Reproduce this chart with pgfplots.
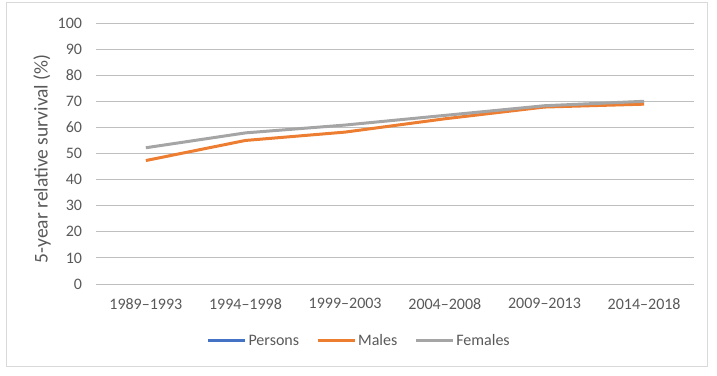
\documentclass[border=0pt]{standalone}
\usepackage{fontspec}
\setmainfont{Carlito}
\usepackage{pgfplots}
\pgfplotsset{compat=1.18}
\definecolor{persons}{RGB}{68,114,196}
\definecolor{males}{RGB}{237,125,49}
\definecolor{females}{RGB}{165,165,165}
\definecolor{txt}{RGB}{89,89,89}
\definecolor{grid}{RGB}{217,217,217}
\begin{document}
\begin{tikzpicture}
\path (0bp,0bp) rectangle (717bp,376bp);
\draw[grid, line width=1bp] (6bp,9bp) rectangle (707bp,373bp);
\begin{axis}[
  at={(96bp,92bp)}, anchor=south west,
  scale only axis, width=598bp, height=261bp,
  xmin=-0.5, xmax=5.5, ymin=0, ymax=100,
  xtick={0,1,2,3,4,5},
  xticklabels={1989--1993,1994--1998,1999--2003,2004--2008,2009--2013,2014--2018},
  ytick={0,10,...,100},
  axis line style={draw=none},
  major tick length=0pt,
  xmajorgrids=false,
  ymajorgrids=true, grid style={grid, line width=0.9bp},
  /pgf/number format/assume math mode=true,
  tick label style={font=\fontsize{16bp}{19bp}\selectfont, text=txt},
  yticklabel style={xshift=-10.5bp},
  xticklabel style={yshift=-11bp},
  ylabel={5-year relative survival (\%)},
  ylabel style={at={(axis description cs:-0.0903,0.48)}, anchor=center, font=\fontsize{19.5bp}{22bp}\selectfont, text=txt},
  legend columns=3,
  legend style={at={(axis description cs:0.44,-0.218)}, anchor=center, draw=none, fill=none,
    font=\fontsize{16bp}{19bp}\selectfont, text=txt,
    /tikz/every even column/.append style={column sep=15bp},
    inner xsep=0pt},
  legend image code/.code={\draw[#1] (0bp,0bp) -- (37bp,0bp);},
  clip=false,
]
\addlegendimage{color=persons, line width=3bp}
\addlegendentry{Persons}
\addplot[color=males, line width=3bp] coordinates {(0,47.3) (1,55.0) (2,58.2) (3,63.3) (4,67.8) (5,68.9)};
\addlegendentry{Males}
\addplot[color=females, line width=3bp] coordinates {(0,52.2) (1,57.9) (2,60.9) (3,64.6) (4,68.3) (5,70.0)};
\addlegendentry{Females}
\end{axis}
\end{tikzpicture}
\end{document}
